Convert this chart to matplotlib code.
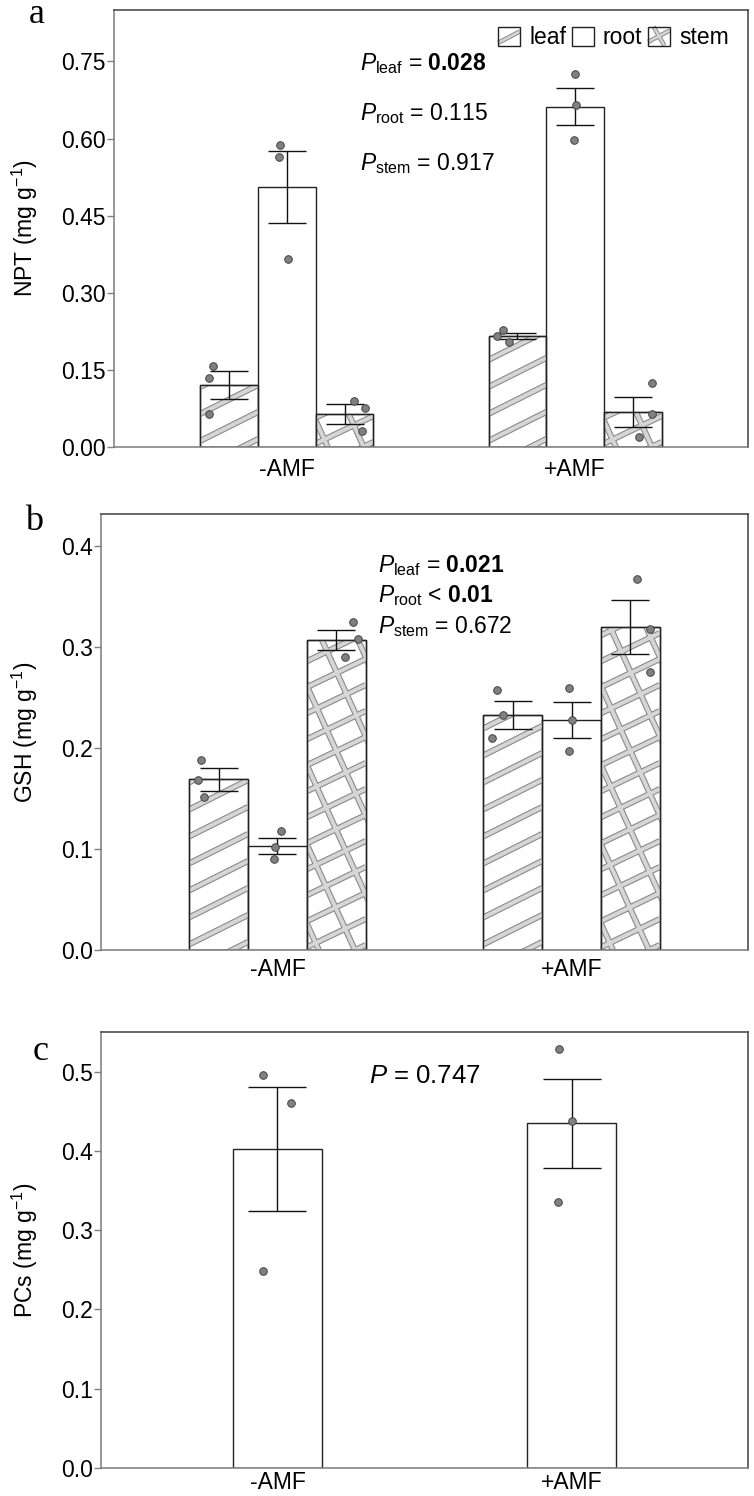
import matplotlib
matplotlib.use('Agg')
import matplotlib.pyplot as plt
import numpy as np
from matplotlib.patches import Rectangle
from matplotlib.lines import Line2D
from matplotlib.transforms import IdentityTransform, blended_transform_factory
from matplotlib.legend_handler import HandlerBase

plt.rcParams['font.family'] = ['Liberation Sans', 'DejaVu Sans']
plt.rcParams['mathtext.fontset'] = 'custom'
plt.rcParams['mathtext.rm'] = 'Liberation Sans'
plt.rcParams['mathtext.it'] = 'Liberation Sans:italic'
plt.rcParams['mathtext.bf'] = 'Liberation Sans:bold'

# ---------------- data ----------------
groups = ['-AMF', '+AMF']
tissues = ['leaf', 'root', 'stem']

# NPT (panel a)
npt_leaf_mean = [0.120, 0.216]
npt_leaf_se = [0.027, 0.006]
npt_root_mean = [0.505, 0.662]
npt_root_se = [0.070, 0.036]
npt_stem_mean = [0.064, 0.068]
npt_stem_se = [0.019, 0.030]
npt_leaf_pts = [[0.157, 0.134, 0.064], [0.227, 0.216, 0.204]]
npt_root_pts = [[0.587, 0.565, 0.365], [0.725, 0.666, 0.598]]
npt_stem_pts = [[0.089, 0.076, 0.031], [0.124, 0.064, 0.019]]

# GSH (panel b)
gsh_leaf_mean = [0.169, 0.233]
gsh_leaf_se = [0.011, 0.014]
gsh_root_mean = [0.103, 0.228]
gsh_root_se = [0.008, 0.018]
gsh_stem_mean = [0.307, 0.320]
gsh_stem_se = [0.010, 0.027]
gsh_leaf_pts = [[0.188, 0.168, 0.152], [0.258, 0.233, 0.210]]
gsh_root_pts = [[0.118, 0.102, 0.090], [0.260, 0.228, 0.197]]
gsh_stem_pts = [[0.325, 0.308, 0.290], [0.368, 0.318, 0.275]]

# PCs (panel c)
pcs_mean = [0.402, 0.435]
pcs_se = [0.078, 0.056]
pcs_pts = [[0.496, 0.460, 0.249], [0.528, 0.438, 0.336]]

npt_p_labels = [r'$P_{\mathrm{leaf}}$ = $\mathbf{0.028}$',
                r'$P_{\mathrm{root}}$ = 0.115',
                r'$P_{\mathrm{stem}}$ = 0.917']
gsh_p_labels = [r'$P_{\mathrm{leaf}}$ = $\mathbf{0.021}$',
                r'$P_{\mathrm{root}}$ < $\mathbf{0.01}$',
                r'$P_{\mathrm{stem}}$ = 0.672']
pcs_p_label = r'$P$ = 0.747'

# horizontal jitter of individual points (display only)
npt_jit = {'leaf': [[-0.057, -0.071, -0.071], [-0.050, -0.071, -0.030]],
           'root': [[-0.024, -0.028, 0.003], [0.0, 0.004, -0.004]],
           'stem': [[0.033, 0.071, 0.061], [0.068, 0.068, 0.023]]}
gsh_jit = {'leaf': [[-0.060, -0.070, -0.050], [-0.054, -0.034, -0.070]],
           'root': [[0.013, -0.007, -0.013], [-0.010, 0.0, -0.007]],
           'stem': [[0.057, 0.074, 0.030], [0.024, 0.068, 0.068]]}
pcs_jit = [[-0.050, 0.047, -0.050], [-0.044, 0.0, -0.047]]

# ---------------- style ----------------
FS = 16.5
W, H = 754, 1496
fig = plt.figure(figsize=(W / 100, H / 100), dpi=100)

def fbox(l, t, r, b):
    return [l / W, (H - b) / H, (r - l) / W, (b - t) / H]

axA = fig.add_axes(fbox(114, 10, 748, 447))
axB = fig.add_axes(fbox(101, 514, 748, 950))
axC = fig.add_axes(fbox(101, 1032, 748, 1468))

STRIPE_DARK = '#8a8a8a'
STRIPE_LIGHT = '#d6d6d6'

def stripe_lines(x0, y0, x1, y1, slope, spacing, phase):
    segs = []
    w = x1 - x0
    if abs(slope) <= 1:
        cmin = y0 - max(slope * w, 0) - spacing
        cmax = y1 - min(slope * w, 0) + spacing
        c = cmin + (phase % spacing)
        while c < cmax:
            segs.append(([x0, x1], [c, c + slope * w]))
            c += spacing
    else:
        h = y1 - y0
        inv = 1.0 / slope
        cmin = x0 - max(inv * h, 0) - spacing
        cmax = x1 - min(inv * h, 0) + spacing
        c = cmin + (phase % spacing)
        while c < cmax:
            segs.append(([c, c + inv * h], [y0, y1]))
            c += spacing
    return segs

def add_stripes(ax, bar, families):
    bb = bar.get_window_extent()
    allsegs = []
    for slope, spacing, phase in families:
        allsegs += stripe_lines(bb.x0, bb.y0, bb.x1, bb.y1, slope, spacing, phase)
    for lw, col in ((4.4, STRIPE_DARK), (2.8, STRIPE_LIGHT)):
        for xs, ys in allsegs:
            ln = Line2D(xs, ys, transform=IdentityTransform(), color=col,
                        lw=lw, solid_capstyle='butt', zorder=bar.get_zorder() + 0.1)
            ax.add_artist(ln)
            ln.set_clip_path(bar)
    edge = Rectangle(bar.get_xy(), bar.get_width(), bar.get_height(),
                     fill=False, ec='#222222', lw=1.0, zorder=bar.get_zorder() + 0.2)
    ax.add_patch(edge)

LEAF_FAM = [(0.5, 27, 8)]
STEM_FAM = [(0.48, 26, 5), (-2.2, 36, 12)]

def style_axis(ax, ylim, yticks, fmt, xpad):
    ax.set_xlim(0.4, 2.6)
    ax.set_ylim(*ylim)
    ax.set_yticks(yticks)
    ax.set_yticklabels([fmt.format(v) for v in yticks])
    ax.set_xticks([1, 2])
    ax.set_xticklabels(groups)
    ax.tick_params(axis='y', length=5, width=1, color='#808080', pad=1, labelsize=FS)
    ax.tick_params(axis='x', length=0, pad=xpad, labelsize=FS)
    for s in ['top', 'right']:
        ax.spines[s].set_color('#404040')
    for s in ['left', 'bottom']:
        ax.spines[s].set_color('#7a7a7a')
    for s in ax.spines.values():
        s.set_linewidth(1.1)

def draw_group_bars(ax, means, ses, pts, jits, width, capsize, fams):
    xs = np.array([1, 2])
    offsets = [-width, 0, width]
    for k, t in enumerate(tissues):
        bars = ax.bar(xs + offsets[k], means[t], width=width, color='white',
                      edgecolor='#222222', lw=1.0, zorder=2)
        if fams[t] is not None:
            for b in bars:
                add_stripes(ax, b, fams[t])
        ax.errorbar(xs + offsets[k], means[t], yerr=ses[t], fmt='none',
                    ecolor='#111111', elinewidth=1.0, capsize=capsize,
                    capthick=1.0, zorder=4)
        for g in range(2):
            ax.scatter(xs[g] + offsets[k] + np.array(jits[t][g]), pts[t][g],
                       s=30, color='#808080', edgecolor='#444444',
                       linewidths=0.7, zorder=5)

# ---- panel a ----
style_axis(axA, (0, 0.85), [0, 0.15, 0.30, 0.45, 0.60, 0.75], '{:.2f}', 8)
draw_group_bars(axA,
                {'leaf': npt_leaf_mean, 'root': npt_root_mean, 'stem': npt_stem_mean},
                {'leaf': npt_leaf_se, 'root': npt_root_se, 'stem': npt_stem_se},
                {'leaf': npt_leaf_pts, 'root': npt_root_pts, 'stem': npt_stem_pts},
                npt_jit, 0.2, 13.5,
                {'leaf': LEAF_FAM, 'root': None, 'stem': STEM_FAM})
axA.set_ylabel('NPT (mg g$^{-1}$)', fontsize=FS)
for lab, yv in zip(npt_p_labels, [0.734, 0.635, 0.538]):
    axA.text(1.254, yv, lab, fontsize=FS, ha='left', va='baseline')

# ---- panel b ----
style_axis(axB, (0, 0.432), [0, 0.1, 0.2, 0.3, 0.4], '{:.1f}', 6)
draw_group_bars(axB,
                {'leaf': gsh_leaf_mean, 'root': gsh_root_mean, 'stem': gsh_stem_mean},
                {'leaf': gsh_leaf_se, 'root': gsh_root_se, 'stem': gsh_stem_se},
                {'leaf': gsh_leaf_pts, 'root': gsh_root_pts, 'stem': gsh_stem_pts},
                gsh_jit, 0.2, 14,
                {'leaf': LEAF_FAM, 'root': None, 'stem': STEM_FAM})
axB.set_ylabel('GSH (mg g$^{-1}$)', fontsize=FS)
for lab, yv in zip(gsh_p_labels, [0.374, 0.345, 0.314]):
    axB.text(1.343, yv, lab, fontsize=FS, ha='left', va='baseline')

# ---- panel c ----
style_axis(axC, (0, 0.55), [0, 0.1, 0.2, 0.3, 0.4, 0.5], '{:.1f}', 2)
xc = np.array([1, 2])
axC.bar(xc, pcs_mean, width=0.3, color='white', edgecolor='#222222', lw=1.0, zorder=2)
axC.errorbar(xc, pcs_mean, yerr=pcs_se, fmt='none', ecolor='#111111',
             elinewidth=1.0, capsize=21, capthick=1.0, zorder=4)
for g in range(2):
    axC.scatter(xc[g] + np.array(pcs_jit[g]), pcs_pts[g], s=30, color='#808080',
                edgecolor='#444444', linewidths=0.7, zorder=5)
axC.set_ylabel('PCs (mg g$^{-1}$)', fontsize=FS)
axC.text(1.5, 0.486, pcs_p_label, fontsize=FS + 2, ha='center', va='baseline')

for ax in (axA, axB, axC):
    ax.yaxis.set_label_coords(40 / W, 0.5,
                              transform=blended_transform_factory(fig.transFigure, ax.transAxes))

# ---- legend (panel a) ----
class StripeHandler(HandlerBase):
    def __init__(self, kind):
        super().__init__()
        self.kind = kind

    def create_artists(self, legend, orig_handle, xdescent, ydescent,
                       width, height, fontsize, trans):
        x0, y0 = -xdescent, -ydescent
        arts = []
        segs = []
        if self.kind == 'leaf':
            segs = [([x0, x0 + width], [y0 + 0.15 * height, y0 + 0.75 * height])]
        elif self.kind == 'stem':
            segs = [([x0, x0 + width], [y0 + 0.2 * height, y0 + 0.8 * height]),
                    ([x0 + 0.25 * width, x0 + 0.75 * width], [y0 + height, y0])]
        for lw, col in ((3.2, STRIPE_DARK), (1.8, STRIPE_LIGHT)):
            for xs, ys in segs:
                arts.append(Line2D(xs, ys, color=col, lw=lw, transform=trans,
                                   solid_capstyle='butt'))
        arts.append(Rectangle((x0, y0), width, height, fill=False,
                              ec='#222222', lw=1.0, transform=trans))
        return arts

handles = [Rectangle((0, 0), 1, 1, label=t) for t in tissues]
leg = axA.legend(handles, tissues, loc='upper right', ncol=3, frameon=False,
                 fontsize=FS, handlelength=0.95, handleheight=0.9,
                 handletextpad=0.4, columnspacing=0.25, borderaxespad=0.3,
                 bbox_to_anchor=(0.995, 1.0),
                 handler_map={handles[0]: StripeHandler('leaf'),
                              handles[1]: StripeHandler('root'),
                              handles[2]: StripeHandler('stem')})

# ---- panel letters ----
for lab, x, yb in (('a', 37, 23), ('b', 34, 530), ('c', 41, 1060)):
    fig.text(x / W, (H - yb) / H, lab, fontsize=26, family='Liberation Serif',
             ha='center', va='baseline')

fig.savefig('out.png', dpi=100)
